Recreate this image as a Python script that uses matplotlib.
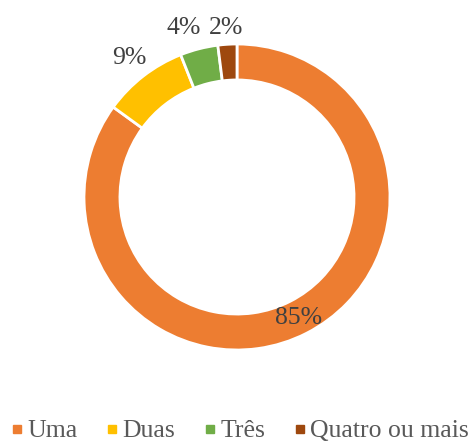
import numpy as np
import matplotlib
matplotlib.use("Agg")
import matplotlib.pyplot as plt
from matplotlib.lines import Line2D

categories = ["Uma", "Duas", "Três", "Quatro ou mais"]
values = [85, 9, 4, 2]
labels = ["85%", "9%", "4%", "2%"]
colors = ["#ED7D31", "#FFC000", "#70AD47", "#9E480E"]

plt.rcParams['font.family'] = ['Liberation Serif', 'DejaVu Serif']

W, H = 477, 441
fig = plt.figure(figsize=(W / 100, H / 100), dpi=100)
cx, cy, r = 237, 197, 153
ax = fig.add_axes([(cx - r) / W, (H - cy - r) / H, 2 * r / W, 2 * r / H])

wedges, _ = ax.pie(values, colors=colors, startangle=90, counterclock=False,
                   radius=1.0, wedgeprops=dict(width=0.235, edgecolor="white", linewidth=2))

# label placement per slice (best-fit like the original): radius and angle nudge
label_r = [0.89, 1.15, 1.16, 1.11]
label_dang = [0, 0, 3.2, 0]
for w, lab, lr, da in zip(wedges, labels, label_r, label_dang):
    ang = np.deg2rad((w.theta1 + w.theta2) / 2 + da)
    ax.text(lr * np.cos(ang), lr * np.sin(ang), lab, ha="center", va="center",
            fontsize=18.5, color="#404040")

ax.set_xlim(-1, 1)
ax.set_ylim(-1, 1)
ax.set_aspect("equal")
ax.axis("off")

handles = [Line2D([], [], marker="s", linestyle="", markersize=6,
                  markerfacecolor=c, markeredgecolor=c) for c in colors]
fig.legend(handles, categories, loc="center", bbox_to_anchor=(0.5, 1 - 431 / H),
           ncol=4, frameon=False, fontsize=18.5, labelcolor="#595959",
           handletextpad=0.05, columnspacing=1.0, handlelength=0.7)

fig.savefig("out.png", dpi=100)
